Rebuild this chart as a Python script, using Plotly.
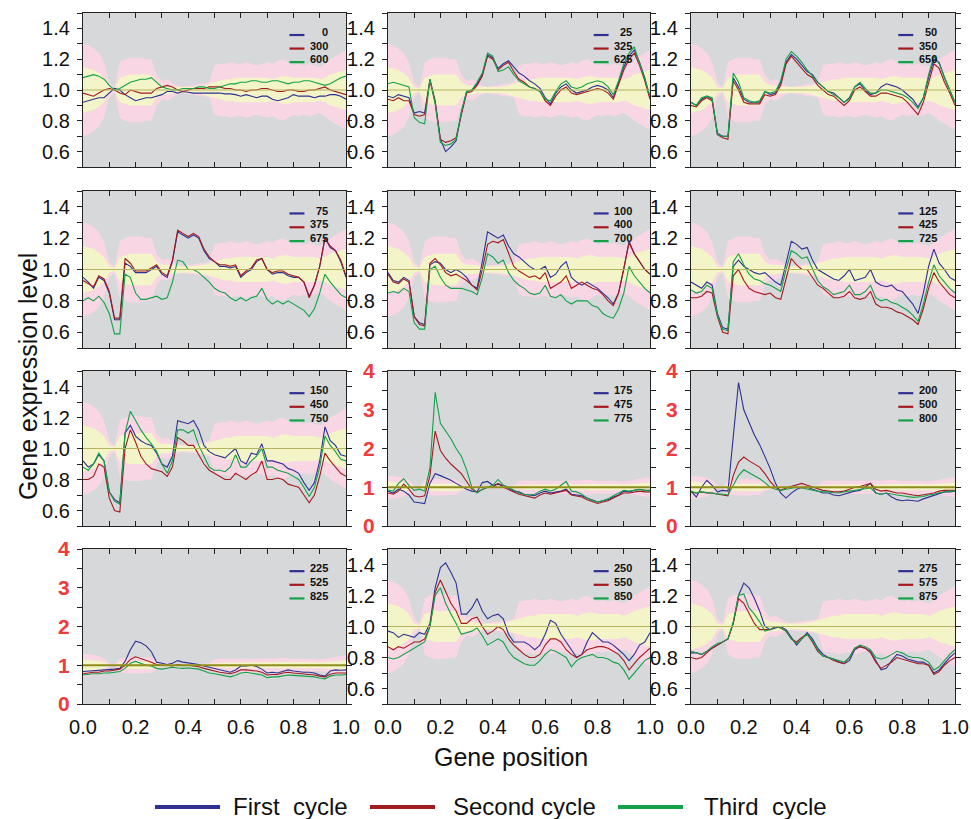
import plotly.graph_objects as go

# ---------------- data ----------------
position = [round(i * 0.02, 2) for i in range(51)]

# half-widths of the background confidence bands around 1.0
pink_dev = [0.30, 0.29, 0.27, 0.24, 0.18, 0.05, 0.02, 0.18, 0.20, 0.21,
            0.21, 0.21, 0.20, 0.20, 0.10, 0.06, 0.07, 0.05, 0.03, 0.02,
            0.03, 0.03, 0.04, 0.04, 0.05, 0.16, 0.17, 0.17, 0.18, 0.17,
            0.17, 0.18, 0.17, 0.16, 0.17, 0.18, 0.17, 0.19, 0.20, 0.18,
            0.16, 0.17, 0.16, 0.17, 0.16, 0.15, 0.17, 0.20, 0.22, 0.24,
            0.26]
yellow_dev = [0.15, 0.14, 0.13, 0.11, 0.08, 0.02, 0.01, 0.08, 0.09, 0.10,
              0.10, 0.10, 0.10, 0.10, 0.05, 0.03, 0.03, 0.025, 0.02, 0.02,
              0.02, 0.02, 0.025, 0.03, 0.04, 0.05, 0.06, 0.07, 0.07, 0.08,
              0.08, 0.08, 0.08, 0.08, 0.08, 0.08, 0.07, 0.08, 0.09, 0.09,
              0.08, 0.08, 0.08, 0.08, 0.08, 0.07, 0.08, 0.10, 0.11, 0.12,
              0.13]

first_labels = ["0", "25", "50", "75", "100", "125", "150", "175", "200", "225", "250", "275"]
second_labels = ["300", "325", "350", "375", "400", "425", "450", "475", "500", "525", "550", "575"]
third_labels = ["600", "625", "650", "675", "700", "725", "750", "775", "800", "825", "850", "875"]
cycle_names = ["First\u00a0 cycle", "Second cycle", "Third\u00a0 cycle"]

p01_first = [0.92, 0.93, 0.94, 0.95, 0.95, 0.98, 1.01, 1.00, 0.97, 0.95,
             0.93, 0.94, 0.95, 0.95, 0.96, 0.97, 0.99, 0.99, 0.98, 0.99,
             0.985, 0.98, 0.98, 0.98, 0.98, 0.98, 0.98, 0.975, 0.975, 0.97,
             0.96, 0.97, 0.96, 0.95, 0.96, 0.96, 0.94, 0.93, 0.94, 0.95,
             0.97, 0.96, 0.96, 0.96, 0.95, 0.96, 0.96, 0.97, 0.97, 0.96,
             0.94]
p01_second = [0.98, 0.97, 0.96, 0.98, 1.00, 1.01, 1.00, 0.98, 0.97, 1.00,
              0.99, 0.98, 0.98, 0.98, 1.01, 1.02, 1.03, 1.02, 1.00, 0.99,
              1.00, 1.01, 1.01, 1.01, 1.02, 1.02, 1.02, 1.01, 1.01, 1.00,
              1.00, 0.99, 1.00, 1.00, 1.01, 1.01, 1.00, 0.99, 0.99, 1.00,
              1.00, 0.99, 0.99, 1.00, 1.00, 1.01, 1.02, 1.00, 0.99, 0.98,
              0.97]
p01_third = [1.08, 1.09, 1.10, 1.09, 1.07, 1.03, 1.00, 1.01, 1.03, 1.05,
             1.06, 1.07, 1.07, 1.08, 1.05, 1.02, 1.01, 1.00, 1.00, 1.01,
             1.01, 1.01, 1.02, 1.02, 1.01, 1.01, 1.02, 1.03, 1.04, 1.04,
             1.05, 1.05, 1.06, 1.06, 1.05, 1.05, 1.06, 1.06, 1.05, 1.04,
             1.05, 1.05, 1.06, 1.06, 1.05, 1.04, 1.03, 1.04, 1.06, 1.08,
             1.09]

p02_first = [0.96, 0.95, 0.97, 0.96, 0.95, 0.85, 0.86, 0.85, 1.07, 0.93,
             0.68, 0.60, 0.63, 0.67, 0.85, 0.99, 1.00, 1.04, 1.10, 1.23,
             1.21, 1.14, 1.17, 1.19, 1.15, 1.11, 1.09, 1.06, 1.04, 1.01,
             0.95, 0.91, 0.98, 1.02, 1.04, 1.00, 0.98, 0.99, 1.00, 1.02,
             1.03, 1.02, 1.00, 0.95, 1.05, 1.15, 1.22, 1.26, 1.18, 1.08,
             0.95]
p02_second = [0.94, 0.93, 0.95, 0.93, 0.93, 0.84, 0.83, 0.84, 1.06, 0.92,
              0.68, 0.66, 0.67, 0.69, 0.84, 0.98, 0.99, 1.03, 1.09, 1.22,
              1.20, 1.13, 1.16, 1.18, 1.12, 1.07, 1.05, 1.02, 1.01, 0.99,
              0.93, 0.90, 0.96, 1.00, 1.02, 0.98, 0.97, 0.98, 0.99, 1.00,
              1.01, 1.00, 0.98, 0.94, 1.03, 1.13, 1.20, 1.24, 1.16, 1.06,
              0.94]
p02_third = [1.04, 1.05, 1.04, 1.03, 1.02, 0.82, 0.79, 0.78, 1.07, 0.91,
             0.66, 0.64, 0.65, 0.68, 0.86, 0.99, 1.00, 1.05, 1.11, 1.24,
             1.22, 1.12, 1.13, 1.15, 1.10, 1.06, 1.04, 1.02, 1.01, 0.99,
             0.94, 0.93, 0.99, 1.04, 1.06, 1.02, 1.01, 1.02, 1.04, 1.05,
             1.06, 1.05, 1.02, 0.97, 1.06, 1.17, 1.24, 1.28, 1.18, 1.07,
             0.96]

p03_first = [0.92, 0.90, 0.94, 0.96, 0.94, 0.72, 0.70, 0.70, 1.08, 1.02,
             0.94, 0.92, 0.92, 0.92, 0.99, 0.97, 0.98, 1.05, 1.18, 1.23,
             1.20, 1.16, 1.12, 1.10, 1.05, 1.02, 0.99, 0.98, 0.95, 0.92,
             0.95, 1.02, 1.04, 1.00, 0.97, 0.98, 1.02, 1.04, 1.03, 1.02,
             1.00, 0.97, 0.94, 0.89, 0.95, 1.08, 1.20, 1.18, 1.08, 1.00,
             0.92]
p03_second = [0.90, 0.89, 0.93, 0.95, 0.93, 0.71, 0.69, 0.68, 1.06, 1.00,
              0.92, 0.91, 0.91, 0.91, 0.97, 0.96, 0.97, 1.03, 1.17, 1.22,
              1.18, 1.14, 1.10, 1.08, 1.03, 1.00, 0.97, 0.96, 0.93, 0.90,
              0.93, 1.00, 1.02, 0.99, 0.96, 0.96, 0.98, 0.98, 0.97, 0.96,
              0.95, 0.92, 0.88, 0.84, 0.92, 1.05, 1.17, 1.14, 1.05, 0.98,
              0.90]
p03_third = [0.92, 0.90, 0.95, 0.96, 0.95, 0.71, 0.70, 0.70, 1.11, 1.05,
             0.95, 0.93, 0.92, 0.93, 0.99, 0.98, 0.99, 1.06, 1.20, 1.25,
             1.22, 1.18, 1.13, 1.09, 1.05, 1.02, 0.99, 0.97, 0.95, 0.92,
             0.94, 1.02, 1.05, 1.01, 0.98, 0.98, 1.00, 1.00, 0.99, 0.98,
             0.97, 0.95, 0.92, 0.88, 0.95, 1.10, 1.22, 1.17, 1.08, 1.00,
             0.92]

p04_first = [0.95, 0.92, 0.88, 0.95, 0.93, 0.85, 0.68, 0.68, 1.04, 1.02,
             0.98, 0.98, 0.98, 1.00, 1.02, 0.97, 0.95, 1.05, 1.24, 1.22,
             1.20, 1.22, 1.20, 1.12, 1.07, 1.05, 1.02, 1.02, 1.01, 1.02,
             0.95, 0.98, 1.00, 1.05, 1.07, 1.00, 0.97, 0.98, 0.98, 0.96,
             0.95, 0.95, 0.92, 0.83, 0.90, 1.02, 1.20, 1.14, 1.12, 1.05,
             0.95]
p04_second = [0.93, 0.91, 0.89, 0.96, 0.94, 0.86, 0.69, 0.69, 1.07, 1.04,
              0.99, 0.99, 0.99, 1.01, 1.03, 0.98, 0.96, 1.06, 1.25, 1.23,
              1.21, 1.23, 1.21, 1.13, 1.08, 1.05, 1.03, 1.03, 1.02, 1.03,
              0.96, 0.99, 1.01, 1.06, 1.07, 1.00, 0.98, 0.99, 0.99, 0.97,
              0.96, 0.95, 0.92, 0.82, 0.90, 1.02, 1.20, 1.15, 1.12, 1.06,
              0.96]
p04_third = [0.80, 0.82, 0.80, 0.83, 0.79, 0.72, 0.59, 0.59, 0.97, 0.95,
             0.85, 0.81, 0.81, 0.82, 0.83, 0.81, 0.82, 0.92, 1.06, 1.05,
             1.00, 1.00, 0.98, 0.95, 0.92, 0.88, 0.86, 0.85, 0.82, 0.80,
             0.82, 0.80, 0.82, 0.83, 0.88, 0.81, 0.78, 0.80, 0.78, 0.80,
             0.78, 0.76, 0.74, 0.70, 0.75, 0.85, 0.97, 0.92, 0.88, 0.84,
             0.82]

p05_first = [0.98, 0.93, 0.92, 0.95, 0.93, 0.70, 0.66, 0.65, 1.03, 1.05,
             1.04, 1.00, 0.98, 1.00, 0.98, 0.95, 0.90, 0.88, 1.05, 1.24,
             1.22, 1.20, 1.22, 1.15, 1.10, 1.08, 1.05, 1.02, 1.00, 1.00,
             1.02, 0.95, 0.97, 1.02, 1.05, 0.95, 0.92, 0.90, 0.92, 0.90,
             0.88, 0.85, 0.82, 0.78, 0.85, 1.00, 1.18, 1.10, 1.05, 1.00,
             0.97]
p05_second = [0.97, 0.92, 0.91, 0.94, 0.92, 0.70, 0.65, 0.64, 1.04, 1.07,
              1.03, 0.98, 0.96, 0.97, 0.95, 0.93, 0.90, 0.87, 1.00, 1.16,
              1.18, 1.17, 1.19, 1.10, 1.02, 0.99, 0.97, 0.95, 0.96, 0.94,
              0.98, 0.88, 0.90, 0.92, 0.96, 0.88, 0.90, 0.92, 0.90, 0.88,
              0.87, 0.84, 0.80, 0.77, 0.85, 1.00, 1.17, 1.10, 1.05, 1.00,
              0.97]
p05_third = [0.85, 0.86, 0.85, 0.88, 0.86, 0.66, 0.62, 0.62, 1.00, 1.02,
             0.95, 0.90, 0.88, 0.88, 0.88, 0.87, 0.86, 0.84, 0.95, 1.10,
             1.08, 1.04, 1.06, 0.98, 0.93, 0.90, 0.88, 0.85, 0.84, 0.85,
             0.90, 0.83, 0.82, 0.84, 0.80, 0.78, 0.80, 0.80, 0.80, 0.77,
             0.76, 0.72, 0.70, 0.69, 0.75, 0.85, 1.02, 0.96, 0.92, 0.88,
             0.85]

p06_first = [0.92, 0.90, 0.88, 0.92, 0.90, 0.72, 0.63, 0.62, 1.02, 1.06,
             1.02, 1.00, 0.98, 0.97, 0.98, 0.95, 0.92, 0.90, 1.05, 1.18,
             1.16, 1.13, 1.14, 1.06, 1.00, 0.98, 0.96, 0.94, 0.93, 0.96,
             1.00, 0.93, 0.94, 0.95, 1.00, 0.92, 0.90, 0.89, 0.90, 0.87,
             0.86, 0.82, 0.78, 0.72, 0.85, 1.02, 1.13, 1.04, 1.00, 0.95,
             0.93]
p06_second = [0.82, 0.82, 0.83, 0.86, 0.85, 0.70, 0.60, 0.59, 0.96, 1.00,
              0.93, 0.88, 0.86, 0.85, 0.84, 0.85, 0.82, 0.81, 0.95, 1.07,
              1.03, 1.00, 1.00, 0.95, 0.90, 0.88, 0.85, 0.82, 0.82, 0.83,
              0.86, 0.82, 0.81, 0.82, 0.86, 0.78, 0.76, 0.76, 0.75, 0.73,
              0.72, 0.70, 0.68, 0.65, 0.75, 0.88, 0.98, 0.92, 0.88, 0.84,
              0.82]
p06_third = [0.87, 0.85, 0.86, 0.90, 0.88, 0.71, 0.62, 0.61, 1.05, 1.10,
             1.03, 0.97, 0.94, 0.93, 0.91, 0.90, 0.88, 0.86, 1.00, 1.12,
             1.10, 1.07, 1.08, 1.00, 0.93, 0.89, 0.87, 0.84, 0.85, 0.86,
             0.90, 0.84, 0.84, 0.86, 0.90, 0.82, 0.80, 0.81, 0.79, 0.78,
             0.76, 0.74, 0.71, 0.67, 0.78, 0.92, 1.03, 0.96, 0.92, 0.88,
             0.85]

p07_first = [0.92, 0.88, 0.90, 0.96, 0.92, 0.72, 0.67, 0.65, 1.10, 1.15,
             1.08, 1.05, 1.03, 1.02, 0.97, 0.90, 0.88, 0.95, 1.18, 1.17,
             1.16, 1.18, 1.12, 1.02, 0.98, 0.96, 0.95, 0.94, 0.97, 1.00,
             0.92, 0.90, 0.97, 0.96, 1.03, 0.92, 0.92, 0.91, 0.90, 0.87,
             0.86, 0.84, 0.78, 0.73, 0.78, 0.92, 1.14, 1.05, 1.02, 0.96,
             0.95]
p07_second = [0.80, 0.80, 0.82, 0.90, 0.88, 0.68, 0.60, 0.59, 1.00, 1.12,
              1.04, 0.95, 0.90, 0.87, 0.86, 0.85, 0.82, 0.88, 1.07, 1.05,
              1.02, 1.02, 0.96, 0.90, 0.86, 0.84, 0.82, 0.80, 0.80, 0.84,
              0.82, 0.80, 0.83, 0.85, 0.92, 0.80, 0.80, 0.81, 0.80, 0.77,
              0.76, 0.75, 0.70, 0.65, 0.70, 0.82, 0.97, 0.92, 0.88, 0.84,
              0.82]
p07_third = [0.88, 0.86, 0.90, 0.97, 0.92, 0.72, 0.66, 0.64, 1.10, 1.24,
             1.18, 1.12, 1.07, 1.03, 0.98, 0.90, 0.84, 0.92, 1.12, 1.12,
             1.10, 1.12, 1.02, 0.95, 0.88, 0.86, 0.86, 0.85, 0.88, 0.96,
             0.88, 0.88, 0.92, 0.95, 1.00, 0.88, 0.88, 0.86, 0.85, 0.84,
             0.82, 0.80, 0.75, 0.69, 0.75, 0.88, 1.08, 1.02, 0.98, 0.93,
             0.92]

p08_first = [0.90, 0.85, 0.95, 0.90, 0.80, 0.62, 0.60, 0.58, 1.10, 1.35,
             1.30, 1.25, 1.18, 1.10, 1.02, 0.95, 0.90, 0.88, 1.12, 1.15,
             1.05, 1.08, 1.05, 0.98, 0.90, 0.88, 0.82, 0.80, 0.78, 0.85,
             0.90, 0.85, 0.88, 0.90, 0.95, 0.82, 0.80, 0.78, 0.72, 0.68,
             0.62, 0.65, 0.68, 0.75, 0.80, 0.90, 0.88, 0.92, 0.95, 0.92,
             0.92]
p08_second = [0.85, 0.82, 0.90, 1.08, 0.95, 0.78, 0.75, 0.78, 1.30, 2.45,
              1.95, 1.75, 1.60, 1.48, 1.35, 1.15, 0.95, 0.88, 0.95, 1.00,
              1.00, 1.10, 1.00, 0.95, 0.88, 0.82, 0.78, 0.75, 0.72, 0.80,
              0.85, 0.82, 0.85, 0.88, 0.92, 0.80, 0.78, 0.75, 0.68, 0.62,
              0.58, 0.62, 0.65, 0.72, 0.78, 0.85, 0.85, 0.88, 0.90, 0.88,
              0.88]
p08_third = [0.93, 0.90, 1.10, 1.22, 1.05, 0.92, 0.95, 0.90, 1.50, 3.45,
             2.65, 2.45, 2.25, 2.00, 1.80, 1.45, 1.00, 0.85, 0.95, 1.00,
             1.05, 1.20, 1.05, 1.00, 0.92, 0.85, 0.82, 0.80, 0.82, 0.90,
             0.95, 0.90, 0.95, 1.05, 1.15, 0.90, 0.88, 0.82, 0.72, 0.66,
             0.62, 0.65, 0.70, 0.78, 0.85, 0.92, 0.90, 0.92, 0.94, 0.92,
             0.90]

p09_first = [0.90, 0.75, 1.00, 1.18, 1.05, 0.88, 0.92, 0.90, 2.30, 3.70,
             3.00, 2.65, 2.35, 2.10, 1.80, 1.48, 1.10, 0.85, 0.72, 0.85,
             0.95, 1.00, 1.00, 0.95, 0.88, 0.85, 0.85, 0.80, 0.78, 0.82,
             0.88, 0.90, 0.92, 1.00, 1.10, 0.85, 0.82, 0.85, 0.75, 0.68,
             0.65, 0.67, 0.66, 0.64, 0.70, 0.75, 0.78, 0.85, 0.88, 0.88,
             0.90]
p09_second = [0.88, 0.85, 0.88, 0.85, 0.85, 0.82, 0.80, 0.78, 1.30, 1.65,
              1.78, 1.68, 1.60, 1.52, 1.35, 1.15, 1.00, 0.92, 0.98, 1.02,
              1.05, 1.10, 1.05, 1.00, 0.95, 0.92, 0.90, 0.88, 0.88, 0.90,
              0.95, 1.00, 1.02, 1.05, 1.10, 0.95, 0.90, 0.92, 0.88, 0.85,
              0.85, 0.82, 0.80, 0.78, 0.80, 0.82, 0.85, 0.90, 0.92, 0.92,
              0.92]
p09_third = [0.90, 0.85, 0.88, 0.86, 0.85, 0.83, 0.82, 0.80, 1.05, 1.30,
             1.45, 1.38, 1.30, 1.22, 1.12, 1.00, 0.95, 0.92, 0.95, 0.98,
             1.00, 0.98, 0.95, 0.92, 0.90, 0.88, 0.88, 0.86, 0.85, 0.88,
             0.90, 0.92, 0.94, 0.96, 0.98, 0.85, 0.82, 0.85, 0.82, 0.80,
             0.78, 0.76, 0.74, 0.75, 0.76, 0.80, 0.82, 0.86, 0.88, 0.90,
             0.90]

p10_first = [0.84, 0.85, 0.86, 0.86, 0.87, 0.88, 0.90, 0.92, 1.10, 1.40,
             1.62, 1.58, 1.50, 1.35, 1.08, 1.05, 1.02, 1.05, 1.12, 1.08,
             1.06, 1.05, 1.02, 0.98, 0.95, 0.92, 0.88, 0.85, 0.82, 0.88,
             0.98, 0.98, 1.00, 0.97, 0.90, 0.80, 0.82, 0.80, 0.85, 0.88,
             0.85, 0.83, 0.82, 0.82, 0.80, 0.75, 0.72, 0.85, 0.88, 0.87,
             0.88]
p10_second = [0.78, 0.80, 0.82, 0.82, 0.85, 0.85, 0.88, 0.90, 1.00, 1.15,
              1.22, 1.18, 1.12, 1.08, 1.02, 1.00, 1.00, 0.98, 1.02, 1.00,
              1.00, 0.98, 0.96, 0.92, 0.88, 0.86, 0.82, 0.80, 0.78, 0.82,
              0.88, 0.88, 0.87, 0.85, 0.82, 0.75, 0.76, 0.76, 0.80, 0.82,
              0.80, 0.79, 0.78, 0.77, 0.75, 0.72, 0.70, 0.77, 0.80, 0.80,
              0.80]
p10_third = [0.75, 0.77, 0.78, 0.78, 0.80, 0.80, 0.82, 0.84, 0.92, 1.05,
             1.10, 1.05, 1.00, 0.98, 0.92, 0.90, 0.92, 0.95, 0.93, 0.92,
             0.93, 0.92, 0.90, 0.85, 0.80, 0.78, 0.75, 0.72, 0.70, 0.74,
             0.80, 0.82, 0.80, 0.78, 0.75, 0.68, 0.70, 0.70, 0.73, 0.75,
             0.74, 0.73, 0.72, 0.72, 0.70, 0.67, 0.65, 0.72, 0.75, 0.75,
             0.76]

p11_first = [0.97, 0.96, 0.93, 0.95, 0.94, 0.93, 0.96, 0.95, 1.02, 1.25,
             1.38, 1.41, 1.35, 1.28, 1.08, 1.08, 1.12, 1.18, 1.10, 1.05,
             1.07, 1.08, 1.05, 0.95, 0.90, 0.90, 0.90, 0.88, 0.85, 0.88,
             0.95, 1.04, 1.02, 0.95, 0.90, 0.85, 0.80, 0.82, 0.90, 0.96,
             0.93, 0.90, 0.90, 0.88, 0.85, 0.82, 0.78, 0.82, 0.88, 0.90,
             0.96]
p11_second = [0.87, 0.85, 0.87, 0.86, 0.88, 0.90, 0.90, 0.92, 1.00, 1.22,
              1.30, 1.22, 1.15, 1.10, 1.02, 1.02, 1.05, 1.06, 1.00, 0.95,
              0.97, 1.00, 0.98, 0.92, 0.88, 0.85, 0.82, 0.80, 0.80, 0.82,
              0.88, 0.92, 0.92, 0.90, 0.85, 0.82, 0.80, 0.82, 0.85, 0.86,
              0.87, 0.87, 0.86, 0.84, 0.82, 0.78, 0.72, 0.76, 0.80, 0.83,
              0.86]
p11_third = [0.80, 0.79, 0.80, 0.82, 0.84, 0.86, 0.88, 0.90, 1.00, 1.20,
             1.25, 1.15, 1.08, 1.02, 0.95, 0.96, 0.97, 0.99, 0.94, 0.88,
             0.90, 0.92, 0.90, 0.84, 0.80, 0.78, 0.76, 0.75, 0.75, 0.78,
             0.82, 0.85, 0.84, 0.82, 0.80, 0.74, 0.78, 0.80, 0.81, 0.82,
             0.80, 0.80, 0.79, 0.77, 0.76, 0.72, 0.66, 0.70, 0.74, 0.78,
             0.80]

p12_first = [0.83, 0.83, 0.82, 0.84, 0.86, 0.88, 0.90, 0.92, 1.02, 1.20,
             1.28, 1.25, 1.18, 1.10, 1.00, 0.98, 0.99, 1.00, 0.98, 0.93,
             0.88, 0.92, 0.96, 0.92, 0.86, 0.82, 0.80, 0.79, 0.77, 0.76,
             0.78, 0.85, 0.87, 0.86, 0.84, 0.78, 0.72, 0.73, 0.78, 0.82,
             0.81, 0.79, 0.78, 0.77, 0.77, 0.75, 0.70, 0.72, 0.76, 0.80,
             0.83]
p12_second = [0.80, 0.79, 0.80, 0.83, 0.86, 0.88, 0.90, 0.92, 1.02, 1.18,
              1.15, 1.08, 1.02, 0.98, 0.98, 0.98, 1.00, 0.99, 0.97, 0.92,
              0.90, 0.93, 0.95, 0.90, 0.84, 0.81, 0.80, 0.78, 0.77, 0.76,
              0.80, 0.86, 0.87, 0.86, 0.83, 0.77, 0.73, 0.75, 0.77, 0.80,
              0.79, 0.78, 0.77, 0.76, 0.76, 0.75, 0.69, 0.71, 0.75, 0.78,
              0.80]
p12_third = [0.84, 0.83, 0.82, 0.84, 0.87, 0.89, 0.90, 0.92, 1.03, 1.20,
             1.21, 1.12, 1.08, 1.03, 0.97, 0.98, 1.00, 0.99, 0.97, 0.92,
             0.89, 0.92, 0.95, 0.91, 0.85, 0.81, 0.80, 0.79, 0.78, 0.77,
             0.80, 0.86, 0.88, 0.87, 0.85, 0.80, 0.79, 0.80, 0.82, 0.84,
             0.83, 0.81, 0.80, 0.80, 0.79, 0.77, 0.72, 0.74, 0.78, 0.82,
             0.85]

panels = [
    (p01_first, p01_second, p01_third), (p02_first, p02_second, p02_third),
    (p03_first, p03_second, p03_third), (p04_first, p04_second, p04_third),
    (p05_first, p05_second, p05_third), (p06_first, p06_second, p06_third),
    (p07_first, p07_second, p07_third), (p08_first, p08_second, p08_third),
    (p09_first, p09_second, p09_third), (p10_first, p10_second, p10_third),
    (p11_first, p11_second, p11_third), (p12_first, p12_second, p12_third),
]
wide_panels = {7, 8, 9}  # panels drawn on a 0-4 scale

# ---------------- style / layout ----------------
W, H = 971, 819


def px(xp):
    return xp / W


def py(yp):
    return 1 - yp / H


COL_L = [83, 388, 691]
COL_R = [346, 650, 955]
ROW_T = [13, 191, 371, 549]
ROW_B = [167, 348, 526, 704]
FONT = "Liberation Sans, Arial, Helvetica, sans-serif"
BG = "#d6d8da"
PINK = "#f8d6e3"
YELLOW = "#f3f4c8"
LINE_COLORS = ["#2e3192", "#a31a1f", "#15a04a"]
AX = "#222222"
RED_TICK = "#ef3b3b"

fig = go.Figure()
layout = {}
shapes = []
annotations = []

pink_up = [1 + d for d in pink_dev]
pink_lo = [1 - d for d in pink_dev]
yel_up = [1 + d for d in yellow_dev]
yel_lo = [1 - d for d in yellow_dev]
poly_x = position + position[::-1]

for k in range(12):
    r, c = divmod(k, 3)
    n = k + 1
    xa = "x" if n == 1 else f"x{n}"
    ya = "y" if n == 1 else f"y{n}"
    xkey = "xaxis" if n == 1 else f"xaxis{n}"
    ykey = "yaxis" if n == 1 else f"yaxis{n}"
    wide = k in wide_panels

    fig.add_trace(go.Scatter(x=poly_x, y=pink_up + pink_lo[::-1], fill="toself",
                             fillcolor=PINK, line=dict(width=0), mode="lines",
                             hoverinfo="skip", showlegend=False, xaxis=xa, yaxis=ya))
    fig.add_trace(go.Scatter(x=poly_x, y=yel_up + yel_lo[::-1], fill="toself",
                             fillcolor=YELLOW, line=dict(width=0), mode="lines",
                             hoverinfo="skip", showlegend=False, xaxis=xa, yaxis=ya))
    shapes.append(dict(type="line", xref=f"{xa} domain", yref=ya, x0=0, x1=1, y0=1, y1=1,
                       line=dict(color="#8f8d1e" if wide else "#b4b35e",
                                 width=1.8 if wide else 1.1), layer="above"))
    labels = [first_labels[k], second_labels[k], third_labels[k]]
    for s, series in enumerate(panels[k]):
        fig.add_trace(go.Scatter(x=position, y=series, mode="lines",
                                 line=dict(color=LINE_COLORS[s], width=1.1),
                                 name=labels[s], showlegend=False, xaxis=xa, yaxis=ya))
        ty = 0.875 - s * 0.088
        shapes.append(dict(type="line", xref=f"{xa} domain", yref=f"{ya} domain",
                           x0=0.785, x1=0.842, y0=ty - 0.018, y1=ty - 0.018,
                           line=dict(color=LINE_COLORS[s], width=2.2)))
        annotations.append(dict(xref=f"{xa} domain", yref=f"{ya} domain", x=0.935, y=ty,
                                xanchor="right", yanchor="middle", showarrow=False,
                                text=f"<b>{labels[s]}</b>", borderpad=0,
                                font=dict(family=FONT, size=11, color="#111111")))

    layout[xkey] = dict(domain=[px(COL_L[c]), px(COL_R[c])], anchor=ya, range=[0, 1],
                        tick0=0, dtick=0.2, tickformat=".1f", ticks="inside", ticklen=5,
                        tickwidth=1, tickcolor=AX,
                        minor=dict(dtick=0.1, tick0=0, ticks="inside", ticklen=5,
                                   tickcolor=AX, showgrid=False),
                        showline=True, linecolor=AX, linewidth=1.2, mirror="ticks",
                        showgrid=False, zeroline=False, showticklabels=(r == 3),
                        automargin=False, ticklabelstandoff=5,
                        tickfont=dict(family=FONT, size=20, color="#111111"))
    if wide:
        yextra = dict(range=[0, 4], tick0=0, dtick=1,
                      minor=dict(dtick=0.5, tick0=0, ticks="outside", ticklen=5,
                                 tickcolor=AX, showgrid=False),
                      tickfont=dict(family=FONT, size=21, color=RED_TICK, weight="bold"))
    else:
        yextra = dict(range=[0.5, 1.5], tick0=0.6, dtick=0.2, tickformat=".1f",
                      minor=dict(dtick=0.1, tick0=0.5, ticks="outside", ticklen=5,
                                 tickcolor=AX, showgrid=False),
                      tickfont=dict(family=FONT, size=20, color="#111111"))
    layout[ykey] = dict(domain=[py(ROW_B[r]), py(ROW_T[r])], anchor=xa,
                        ticks="outside", ticklen=5, tickwidth=1, tickcolor=AX,
                        showline=True, linecolor=AX, linewidth=1.2, mirror="ticks",
                        showgrid=False, zeroline=False, automargin=False,
                        ticklabelstandoff=3, **yextra)

# axis titles
annotations.append(dict(xref="paper", yref="paper", x=px(511), y=py(757),
                        xanchor="center", yanchor="middle", showarrow=False,
                        text="Gene position", font=dict(family=FONT, size=25, color="#111111")))
annotations.append(dict(xref="paper", yref="paper", x=px(28), y=py(377),
                        xanchor="center", yanchor="middle", showarrow=False, textangle=-90,
                        text="Gene expression level", font=dict(family=FONT, size=25, color="#111111")))

# bottom legend
leg_line_x = [(155, 220), (370, 435), (618, 683)]
leg_text_cx = [290, 524, 765]
for s in range(3):
    shapes.append(dict(type="line", xref="paper", yref="paper",
                       x0=px(leg_line_x[s][0]), x1=px(leg_line_x[s][1]),
                       y0=py(807), y1=py(807),
                       line=dict(color=LINE_COLORS[s], width=4)))
    annotations.append(dict(xref="paper", yref="paper", x=px(leg_text_cx[s]), y=py(806),
                            xanchor="center", yanchor="middle", showarrow=False,
                            text=cycle_names[s], font=dict(family=FONT, size=24, color="#111111")))

fig.update_layout(width=W, height=H, autosize=False,
                  margin=dict(l=0, r=0, t=0, b=0, pad=0, autoexpand=False),
                  paper_bgcolor="white", plot_bgcolor=BG,
                  showlegend=False, shapes=shapes, annotations=annotations,
                  **layout)

# remove the default page margin so the figure fills the window exactly
page_css = ("document.body.style.margin='0';"
            "document.body.style.overflow='hidden';"
            "document.documentElement.style.overflow='hidden';")
fig.write_html("out.html", post_script=page_css,
               config={"displayModeBar": False, "responsive": False})
